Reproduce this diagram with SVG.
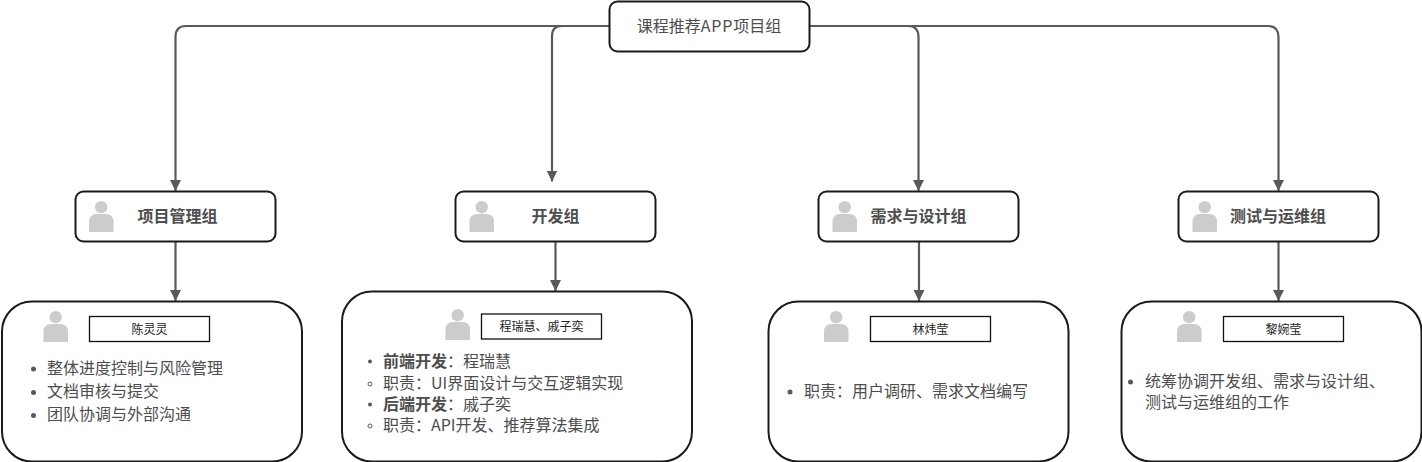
<svg xmlns="http://www.w3.org/2000/svg" width="1422" height="462" viewBox="0 0 1422 462">
<style>
text{font-family:"Noto Sans CJK SC","Microsoft YaHei",sans-serif;fill:#4d4d4d;font-size:16px}
.box{fill:#fff;stroke:#1a1a1a;stroke-width:2}
.name{fill:#fff;stroke:#111;stroke-width:1.3}
.c{text-anchor:middle}
.t{font-weight:700;text-anchor:middle}
.n{font-size:12px;text-anchor:middle;fill:#222}
.b{font-weight:700}
.conn{fill:none;stroke:#595959;stroke-width:2.200;marker-end:url(#a)}
.bul{fill:#595959}
.hol{fill:none;stroke:#595959;stroke-width:1}
.p{fill:#ccc}
</style>
<defs>
<marker id="a" markerUnits="userSpaceOnUse" markerWidth="12" markerHeight="12" refX="11" refY="5.500" orient="auto"><path d="M0 0L11 5.500L0 11Z" fill="#595959"/></marker>
<symbol id="person" overflow="visible"><circle class="p" cx="12.200" cy="6.200" r="6.200"/><path class="p" d="M0 31V21Q0 13 8 13H16.500Q24.500 13 24.500 21V31Z"/></symbol>
</defs>
<g id="connectors">
<path class="conn" d="M609 26H186Q175.500 26 175.500 37V191"/>
<path class="conn" d="M609 26H562Q552 26 552 36V181.500"/>
<path class="conn" d="M810 26H908Q918.500 26 918.500 37V191"/>
<path class="conn" d="M810 26H1268Q1278.500 26 1278.500 37V191"/>
<path class="conn" d="M175.500 241V301"/>
<path class="conn" d="M555.500 241V291"/>
<path class="conn" d="M919 241V301"/>
<path class="conn" d="M1278.500 241V301"/>
</g>
<g id="root"><rect class="box" x="609.500" y="1.500" width="200" height="50" rx="8"/><text class="c" x="709" y="32">课程推荐<tspan letter-spacing="0.800">APP</tspan>项目组</text></g>
<g id="g1"><rect class="box" x="75.500" y="191.500" width="200" height="50" rx="8"/><use href="#person" x="89" y="201"/><text class="t" x="177.500" y="221.500">项目管理组</text></g>
<g id="g2"><rect class="box" x="455.500" y="191.500" width="200" height="50" rx="8"/><use href="#person" x="469.500" y="201"/><text class="t" x="555.500" y="222">开发组</text></g>
<g id="g3"><rect class="box" x="818.500" y="191.500" width="200" height="50" rx="8"/><use href="#person" x="832.500" y="201"/><text class="t" x="918.500" y="222">需求与设计组</text></g>
<g id="g4"><rect class="box" x="1178.500" y="191.500" width="200" height="50" rx="8"/><use href="#person" x="1192.500" y="201"/><text class="t" x="1278" y="222">测试与运维组</text></g>
<g id="d1"><rect class="box" x="2" y="301.500" width="300" height="160" rx="30"/><use href="#person" x="43.500" y="311"/><rect class="name" x="89.500" y="316.500" width="120" height="25"/><text class="n" x="149.500" y="333.500">陈灵灵</text>
<circle class="bul" cx="33.500" cy="369" r="2.500"/><text x="47" y="374">整体进度控制与风险管理</text>
<circle class="bul" cx="33.500" cy="392.500" r="2.500"/><text x="47" y="397">文档审核与提交</text>
<circle class="bul" cx="33.500" cy="415.500" r="2.500"/><text x="47" y="420">团队协调与外部沟通</text></g>
<g id="d2"><rect class="box" x="342" y="291.500" width="350" height="170" rx="30"/><use href="#person" x="445.500" y="309"/><rect class="name" x="481.500" y="314" width="120" height="25"/><text class="n" x="541.500" y="331">程瑞慧、戚子奕</text>
<circle class="bul" cx="370" cy="361.500" r="2"/><text x="383" y="366.500"><tspan class="b">前端开发</tspan>：程瑞慧</text>
<circle class="hol" cx="370" cy="384" r="2"/><text x="383" y="389">职责：UI界面设计与交互逻辑实现</text>
<circle class="bul" cx="370" cy="404.500" r="2"/><text x="383" y="410"><tspan class="b">后端开发</tspan>：戚子奕</text>
<circle class="hol" cx="370" cy="426" r="2"/><text x="383" y="431">职责：API开发、推荐算法集成</text></g>
<g id="d3"><rect class="box" x="768.500" y="301.500" width="300" height="160" rx="30"/><use href="#person" x="824" y="311"/><rect class="name" x="870.500" y="316.500" width="120" height="25"/><text class="n" x="930.500" y="333.500">林炜莹</text>
<circle class="bul" cx="790" cy="392" r="2.500"/><text x="804" y="397">职责：用户调研、需求文档编写</text></g>
<g id="d4"><rect class="box" x="1121.500" y="301.500" width="300" height="160" rx="30"/><use href="#person" x="1177" y="311"/><rect class="name" x="1223.500" y="316.500" width="120" height="25"/><text class="n" x="1283.500" y="333.500">黎婉莹</text>
<circle class="bul" cx="1130.500" cy="382" r="2.500"/><text x="1145" y="387">统筹协调开发组、需求与设计组、</text><text x="1145" y="407.500">测试与运维组的工作</text></g>
</svg>
